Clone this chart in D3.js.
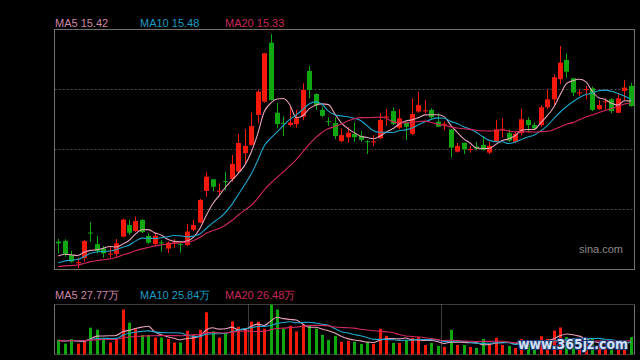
<!DOCTYPE html>
<html>
<head>
<meta charset="utf-8">
<script src="https://cdn.jsdelivr.net/npm/d3@7"></script>
<style>
  html, body { margin: 0; padding: 0; background: #000; }
  svg { display: block; font-family: Arial, "Liberation Sans", sans-serif; }
</style>
</head>
<body>
<svg id="chart" width="640" height="360"></svg>
<script>
// daily candles (price)
var open = [9.58,9.61,9.02,8.68,8.89,9.96,9.48,9.30,9.04,9.07,
  9.79,10.27,10.02,10.48,9.82,9.48,9.55,9.29,9.51,9.49,
  9.44,10.07,10.37,11.69,12.18,11.67,12.10,12.19,12.50,13.27,
  13.61,14.86,15.41,17.87,14.95,14.53,14.44,14.48,14.79,16.69,
  15.73,15.07,14.60,14.52,13.77,13.93,14.07,13.98,13.76,13.72,
  13.89,14.77,15.02,14.33,14.54,14.07,15.00,15.02,15.07,14.58,
  14.46,14.26,13.33,13.70,13.41,13.54,13.61,13.29,13.74,14.24,
  14.10,13.74,14.10,14.65,14.44,14.44,15.18,15.51,16.35,17.15,
  16.39,15.77,15.91,15.97,15.10,15.40,15.51,14.95,15.86,16.07];
var high = [9.69,9.68,9.20,8.91,9.65,10.39,9.82,9.40,9.37,9.69,
  10.54,10.48,10.63,10.52,9.93,9.93,9.65,9.59,9.69,9.58,
  10.32,10.48,11.36,12.49,12.19,12.01,12.49,13.19,14.07,14.27,
  14.95,15.90,17.45,18.23,15.37,14.79,15.20,15.07,16.18,16.90,
  15.76,15.20,14.76,14.76,14.30,14.35,14.54,14.19,13.82,14.02,
  14.93,15.10,15.18,15.10,14.58,15.55,15.83,15.48,15.14,14.93,
  14.58,14.27,13.70,13.71,13.57,13.74,13.98,13.74,14.65,14.72,
  14.26,14.16,15.11,14.76,14.54,15.27,15.93,16.55,17.73,17.43,
  16.40,15.90,16.07,16.04,15.48,15.55,15.55,15.76,16.32,16.20];
var low = [9.09,8.95,8.70,8.47,8.75,9.57,9.09,8.91,8.91,8.91,
  9.76,9.86,9.98,9.94,9.48,9.42,9.16,9.11,9.32,9.12,
  9.40,10.02,10.35,11.45,11.69,11.52,11.73,12.07,12.44,12.85,
  13.58,14.51,15.37,15.46,14.30,13.98,14.37,14.33,14.65,15.55,
  15.07,14.76,14.40,13.85,13.72,13.70,13.74,13.74,13.23,13.57,
  13.85,14.40,14.44,14.26,13.82,14.02,14.95,14.93,14.68,14.35,
  14.23,13.09,13.29,13.23,13.29,13.40,13.37,13.23,13.72,13.93,
  13.74,13.70,14.02,14.16,14.26,14.37,15.10,15.27,16.14,16.41,
  15.65,15.65,15.51,15.02,15.07,15.07,14.93,14.93,15.48,15.20];
var close = [9.51,9.07,8.75,8.73,9.61,9.92,9.19,9.09,9.08,9.51,
  10.50,9.95,10.44,9.98,9.54,9.82,9.51,9.54,9.55,9.45,
  10.00,10.27,11.32,12.29,11.87,11.70,12.06,12.82,13.69,13.57,
  14.40,15.83,17.43,15.48,14.48,14.49,14.54,14.72,15.90,15.90,
  15.27,14.82,14.56,13.98,14.02,14.12,13.93,13.82,13.72,13.76,
  14.65,14.80,14.48,14.72,14.37,14.90,15.27,15.05,14.76,14.37,
  14.50,13.50,13.57,13.43,13.44,13.46,13.40,13.57,14.26,14.28,
  13.79,14.07,14.68,14.44,14.30,15.18,15.51,16.43,17.04,16.66,
  15.79,15.80,15.94,15.07,15.27,15.43,15.02,15.55,16.00,15.23];
// volume, in 万
var vol = [33.6,25.1,35.3,25.1,32.0,61.5,56.8,37.6,27.4,35.3,
  103.2,73.1,58.5,44.5,44.5,39.0,39.0,36.0,27.4,27.4,
  54.5,45.9,56.8,97.0,52.9,39.0,49.2,76.1,63.8,58.5,
  75.4,75.4,59.2,114.8,103.2,59.2,66.1,52.9,68.4,66.1,
  59.2,45.2,33.6,42.9,29.0,31.3,29.0,24.4,29.0,24.4,
  59.2,42.9,26.7,26.7,33.6,38.3,40.6,22.0,26.7,19.7,
  17.4,56.8,22.0,22.0,17.4,15.1,36.0,24.4,38.3,22.0,
  19.7,15.1,35.3,26,20,42,36,55,62,40,
  34,20,24,36,22,20,26,30,28,39.9];
// the 19 sessions before the window (needed for the moving averages)
var prevClose = [8.45,8.40,8.35,8.30,8.38,8.42,8.36,8.33,8.40,8.39,
  8.37,8.40,8.45,8.43,8.45,8.70,8.85,8.90,8.95];
var prevVol = [30,34,31,29,33,35,30,32,31,28,33,34,30,31,35,32,30,33,34];

var maPeriods = [5, 10, 20];
var priceLabels = ["MA5 15.42", "MA10 15.48", "MA20 15.33"];
var volLabels = ["MA5 27.77万", "MA10 25.84万", "MA20 26.48万"];
var dividerIdx = [30, 60]; // month boundaries in the volume panel

var left = 54.5, right = 634.5;
var pTop = 29.5, pBottom = 269.5;
var vTop = 304.5, vBottom = 354.5;
var maColors = ["#eaa2bd", "#1fa7cc", "#d3285f"];
var labelColors = ["#cf87a6", "#1b9cc2", "#c8285a"];
var upColor = "#f5190b", downColor = "#10a810";

var svg = d3.select("#chart");
var n = close.length;

var x = d3.scaleBand().domain(d3.range(n)).range([left + 0.5, right - 0.5]);
var cx = function (i) { return x(i) + x.bandwidth() / 2; };
var y = d3.scaleLinear().domain([8.42, 18.42]).range([pBottom, pTop]);
var yv = d3.scaleLinear().domain([0, d3.max(vol)]).range([vBottom, vTop]);

function movingAvg(values, prev, period) {
  var all = prev.concat(values);
  return values.map(function (v, i) {
    var j = i + prev.length;
    return d3.mean(all.slice(j - period + 1, j + 1));
  });
}

// main panel grid + frame
[1, 2, 3].forEach(function (k) {
  var gy = pTop + k * (pBottom - pTop) / 4;
  svg.append("line").attr("x1", left).attr("x2", right).attr("y1", gy).attr("y2", gy)
    .attr("stroke", "#4c4c4c").attr("stroke-dasharray", "2,2");
});
svg.append("rect").attr("x", left).attr("y", pTop)
  .attr("width", right - left).attr("height", pBottom - pTop)
  .attr("fill", "none").attr("stroke", "#707070");

svg.append("text").attr("x", 623).attr("y", 253).attr("text-anchor", "end")
  .attr("font-size", 11).attr("fill", "#8a8a8a").text("sina.com");

// candles
var candles = svg.append("g");
d3.range(n).forEach(function (i) {
  var up = close[i] >= open[i];
  var col = up ? upColor : downColor;
  var xc = Math.round(cx(i));
  candles.append("line")
    .attr("x1", xc + 0.5).attr("x2", xc + 0.5)
    .attr("y1", y(high[i])).attr("y2", y(low[i]))
    .attr("stroke", col);
  var yTop = y(Math.max(open[i], close[i]));
  var yBot = y(Math.min(open[i], close[i]));
  candles.append("rect")
    .attr("x", xc - 2).attr("y", yTop)
    .attr("width", 5).attr("height", Math.max(1, yBot - yTop))
    .attr("fill", col);
});

// price moving averages
maPeriods.forEach(function (p, k) {
  var ma = movingAvg(close, prevClose, p);
  svg.append("path")
    .datum(ma)
    .attr("fill", "none").attr("stroke", maColors[k]).attr("stroke-width", 1.1)
    .attr("d", d3.line().x(function (d, i) { return cx(i); }).y(function (d) { return y(d); })
      .curve(d3.curveMonotoneX));
});

// labels
var labelX = [55, 140, 225];
priceLabels.forEach(function (t, k) {
  svg.append("text").attr("x", labelX[k]).attr("y", 27).attr("font-size", 11)
    .attr("fill", labelColors[k]).text(t);
});
volLabels.forEach(function (t, k) {
  svg.append("text").attr("x", labelX[k]).attr("y", 299).attr("font-size", 11)
    .attr("fill", labelColors[k]).text(t);
});

// volume panel frame
svg.append("line").attr("x1", left).attr("x2", right).attr("y1", vTop).attr("y2", vTop)
  .attr("stroke", "#7a7a7a").attr("stroke-dasharray", "1,1");
svg.append("line").attr("x1", left).attr("x2", right).attr("y1", vBottom).attr("y2", vBottom)
  .attr("stroke", "#7a7a7a").attr("stroke-dasharray", "1,1");
[left, right].forEach(function (vx) {
  svg.append("line").attr("x1", vx).attr("x2", vx).attr("y1", vTop).attr("y2", vBottom)
    .attr("stroke", "#707070");
});
dividerIdx.forEach(function (i) {
  var dx = Math.round(x(i)) + 0.5;
  svg.append("line").attr("x1", dx).attr("x2", dx).attr("y1", vTop).attr("y2", vBottom)
    .attr("stroke", "#7a7a7a").attr("stroke-dasharray", "1,1");
});

// volume bars
d3.range(n).forEach(function (i) {
  var col = close[i] >= open[i] ? upColor : downColor;
  svg.append("rect")
    .attr("x", Math.round(cx(i)) - 1).attr("y", yv(vol[i]))
    .attr("width", 3).attr("height", vBottom - yv(vol[i]))
    .attr("fill", col);
});

maPeriods.forEach(function (p, k) {
  var ma = movingAvg(vol, prevVol, p);
  svg.append("path")
    .datum(ma)
    .attr("fill", "none").attr("stroke", maColors[k]).attr("stroke-width", 1.1)
    .attr("d", d3.line().x(function (d, i) { return cx(i); }).y(function (d) { return yv(d); })
      .curve(d3.curveMonotoneX));
});

// watermark
svg.append("text")
  .attr("x", 518).attr("y", 348.5)
  .attr("font-family", "DejaVu Sans, sans-serif")
  .attr("font-weight", "bold").attr("font-size", 14)
  .attr("textLength", 110).attr("lengthAdjust", "spacingAndGlyphs")
  .attr("fill", "#cfe0f7").attr("stroke", "#1d3772").attr("stroke-width", 2.2)
  .attr("paint-order", "stroke")
  .text("www.365jz.com");
</script>
</body>
</html>
